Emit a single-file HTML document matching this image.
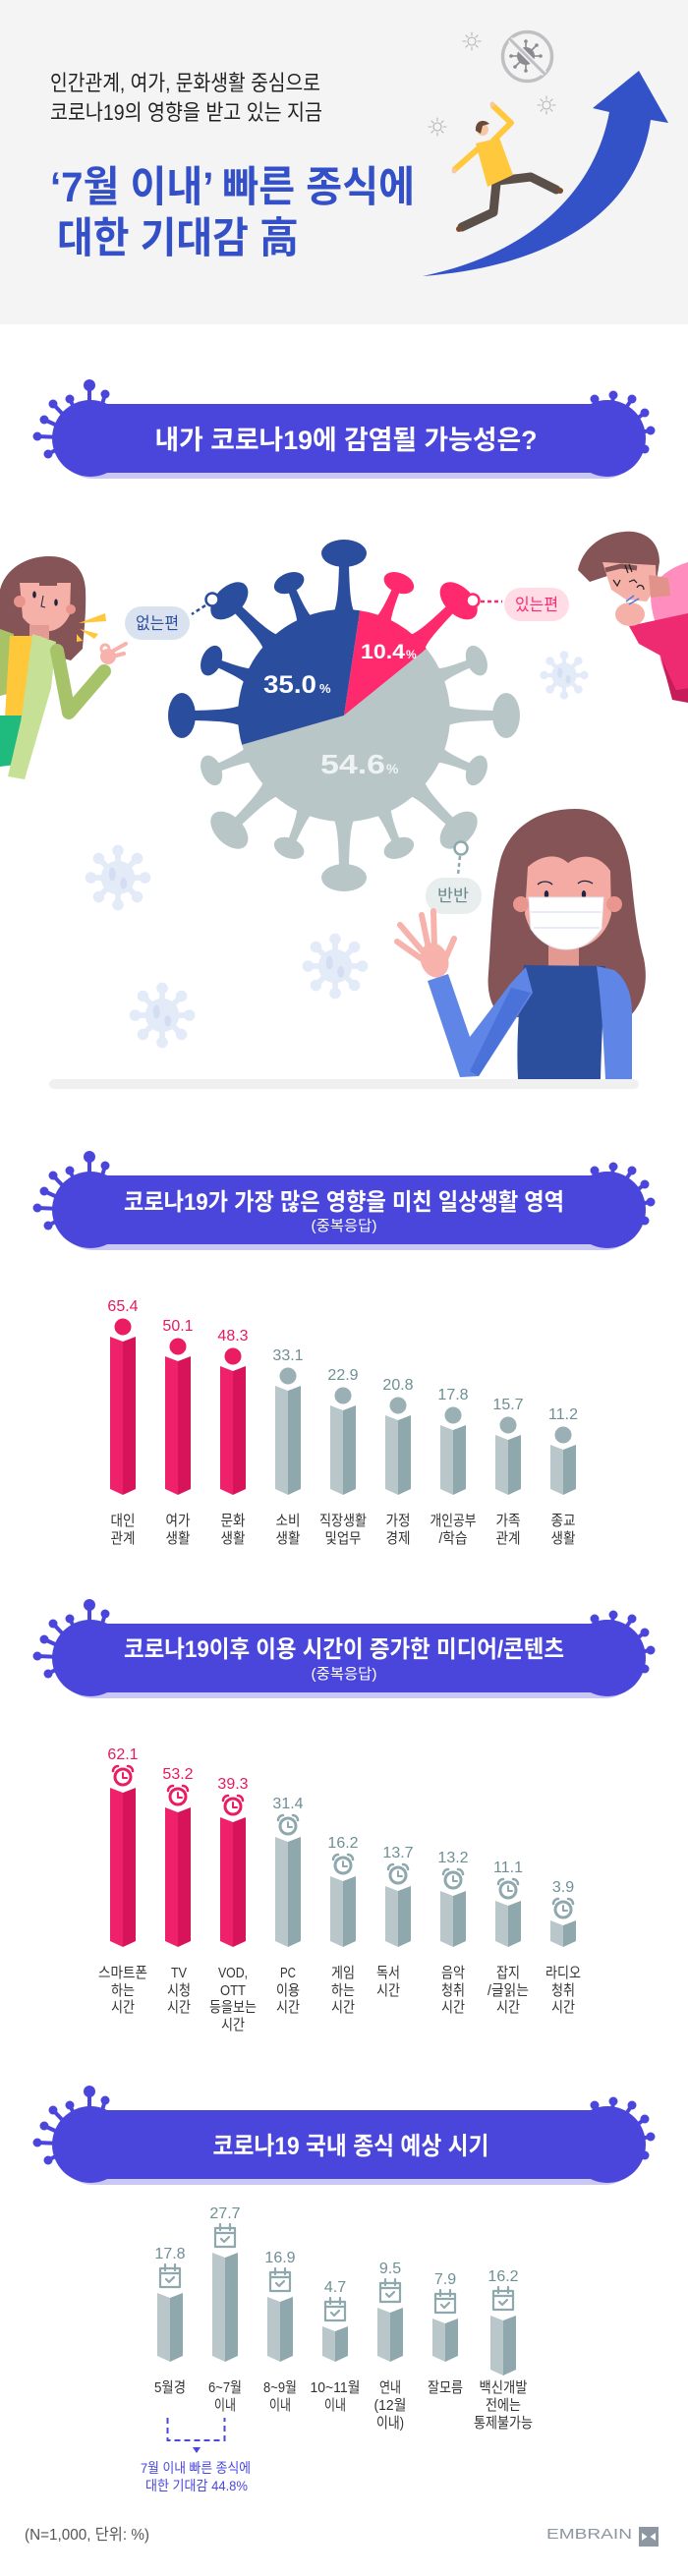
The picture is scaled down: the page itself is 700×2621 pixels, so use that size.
<!DOCTYPE html>
<html><head><meta charset="utf-8">
<style>
html,body{margin:0;padding:0;background:#fff;}
svg{display:block;}
text{font-family:"Liberation Sans","Noto Sans CJK KR",sans-serif;}
</style></head><body>
<svg width="700" height="2621" viewBox="0 0 700 2621" xmlns="http://www.w3.org/2000/svg">
<rect width="700" height="2621" fill="#fff"/>
<!-- ================= HEADER ================= -->
<rect width="700" height="330" fill="#f4f4f4"/>
<text x="51" y="92" font-size="22" fill="#222" textLength="275" lengthAdjust="spacingAndGlyphs">인간관계, 여가, 문화생활 중심으로</text>
<text x="51" y="122" font-size="22" fill="#222" textLength="277" lengthAdjust="spacingAndGlyphs">코로나19의 영향을 받고 있는 지금</text>
<text x="51" y="205" font-size="43" font-weight="bold" fill="#3450c8" textLength="371" lengthAdjust="spacingAndGlyphs">‘7월 이내’ 빠른 종식에</text>
<text x="58" y="257" font-size="43" font-weight="bold" fill="#3450c8" textLength="246" lengthAdjust="spacingAndGlyphs">대한 기대감 高</text>

<!-- arrow -->
<path d="M430,281 C540,258 605,195 620,114 L603,110 L650,72 L680,125 L662,122 C650,210 570,270 430,281 Z" fill="#3352c8"/>

<!-- crossed virus -->
<g stroke="#8b8b90" stroke-width="1.6" stroke-linecap="round">
<line x1="535" y1="43" x2="535" y2="71"/><line x1="521" y1="57" x2="549" y2="57"/>
<line x1="525" y1="47" x2="545" y2="67"/><line x1="545" y1="47" x2="525" y2="67"/>
</g>
<g fill="#8b8b90"><circle cx="535" cy="57" r="9"/><circle cx="535" cy="42" r="1.8"/><circle cx="535" cy="72" r="1.8"/><circle cx="520" cy="57" r="1.8"/><circle cx="550" cy="57" r="1.8"/><circle cx="524" cy="46" r="1.8"/><circle cx="546" cy="68" r="1.8"/><circle cx="546" cy="46" r="1.8"/><circle cx="524" cy="68" r="1.8"/></g>
<circle cx="536.5" cy="57.5" r="25" fill="none" stroke="#c0c0c3" stroke-width="3.5"/>
<line x1="519" y1="40" x2="554" y2="75" stroke="#f4f4f4" stroke-width="6"/>
<line x1="519" y1="40" x2="554" y2="75" stroke="#c0c0c3" stroke-width="3"/>
<!-- small virus outlines -->
<g fill="none" stroke="#b4b4b8" stroke-width="1.1" stroke-linecap="round">
<circle cx="480" cy="42" r="4"/><path d="M480,36v-3M480,48v3M474,42h-3M486,42h3M476,38l-2,-2M484,46l2,2M484,38l2,-2M476,46l-2,2"/>
<circle cx="556" cy="107" r="4"/><path d="M556,101v-3M556,113v3M550,107h-3M562,107h3M552,103l-2,-2M560,111l2,2M560,103l2,-2M552,111l-2,2"/>
<circle cx="445" cy="129" r="4"/><path d="M445,123v-3M445,135v3M439,129h-3M451,129h3M441,125l-2,-2M449,133l2,2M449,125l2,-2M441,133l-2,2"/>
</g>
<!-- person -->
<g stroke-linecap="round" stroke-linejoin="round" fill="none">
<line x1="488" y1="150" x2="463" y2="172" stroke="#ffc83d" stroke-width="6"/>
<polyline points="502,143 520,125 502,108" stroke="#ffc83d" stroke-width="6"/>
<polyline points="507,184 540,180 566,193" stroke="#5b4f49" stroke-width="9"/>
<polyline points="505,186 502,216 470,231" stroke="#5b4f49" stroke-width="9"/>
</g>
<polygon points="484,146 508,140 522,178 496,190" fill="#ffc83d"/>
<circle cx="491" cy="132" r="6" fill="#f6c8a8"/>
<path d="M484,133 C483,123 492,120 498,126 L491,128 L489,136 Z" fill="#6b4a3a"/>
<circle cx="462" cy="174" r="2.5" fill="#f6c8a8"/><circle cx="501" cy="106" r="2.5" fill="#f6c8a8"/>
<circle cx="570" cy="194" r="3" fill="#7a4a2a"/><circle cx="467" cy="233" r="3" fill="#7a4a2a"/>

<!-- ================= BANNER TEMPLATE (section 1) ================= -->
<g id="b1">
<g stroke="#4a46dc" stroke-width="4" stroke-linecap="round" fill="#4a46dc">
<line x1="91" y1="420" x2="91" y2="392"/><circle cx="91" cy="392" r="6" stroke="none"/>
<line x1="100" y1="425" x2="107" y2="401"/><circle cx="107" cy="401" r="4.5" stroke="none"/>
<line x1="80" y1="425" x2="71" y2="406"/><circle cx="71" cy="406" r="4.5" stroke="none"/>
<line x1="70" y1="428" x2="54" y2="411"/><circle cx="54" cy="411" r="4.5" stroke="none"/>
<line x1="65" y1="436" x2="45" y2="427"/><circle cx="45" cy="427" r="4.5" stroke="none"/>
<line x1="62" y1="445" x2="38" y2="444"/><circle cx="38" cy="444" r="4.5" stroke="none"/>
<line x1="62" y1="455" x2="49" y2="462"/><circle cx="49" cy="462" r="4.5" stroke="none"/>
<line x1="610" y1="420" x2="605" y2="406"/><circle cx="605" cy="406" r="4.5" stroke="none"/>
<line x1="622" y1="420" x2="624" y2="402"/><circle cx="624" cy="402" r="4.5" stroke="none"/>
<line x1="632" y1="422" x2="643" y2="406"/><circle cx="643" cy="406" r="4.5" stroke="none"/>
<line x1="640" y1="432" x2="656" y2="420"/><circle cx="656" cy="420" r="4.5" stroke="none"/>
<line x1="645" y1="441" x2="662" y2="438"/><circle cx="662" cy="438" r="4.5" stroke="none"/>
<line x1="642" y1="452" x2="656" y2="457"/><circle cx="656" cy="457" r="4.5" stroke="none"/>
</g>
<rect x="60" y="417" width="590" height="70" rx="35" fill="#c9c7f4"/>
<circle cx="92" cy="446" r="39" fill="#4a46dc"/>
<circle cx="618" cy="446" r="39" fill="#4a46dc"/>
<rect x="56" y="411" width="598" height="70" rx="35" fill="#4a46dc"/>
</g>
<text x="352" y="457" font-size="27" font-weight="bold" fill="#fff" text-anchor="middle" textLength="389" lengthAdjust="spacingAndGlyphs">내가 코로나19에 감염될 가능성은?</text>

<!-- ================= PIE SECTION ================= -->
<!-- faint viruses -->
<g fill="#e3eaf8">
<g transform="translate(574 687) scale(0.85)"><circle r="15"/><g stroke="#e3eaf8" stroke-width="5" stroke-linecap="round"><line x1="0" y1="0" x2="0" y2="-22"/><line x1="0" y1="0" x2="0" y2="22"/><line x1="0" y1="0" x2="-22" y2="0"/><line x1="0" y1="0" x2="22" y2="0"/><line x1="0" y1="0" x2="16" y2="16"/><line x1="0" y1="0" x2="-16" y2="-16"/><line x1="0" y1="0" x2="16" y2="-16"/><line x1="0" y1="0" x2="-16" y2="16"/></g><circle cx="0" cy="-24" r="5"/><circle cx="0" cy="24" r="5"/><circle cx="24" cy="0" r="5"/><circle cx="-24" cy="0" r="5"/><circle cx="17" cy="17" r="5"/><circle cx="-17" cy="-17" r="5"/><circle cx="17" cy="-17" r="5"/><circle cx="-17" cy="17" r="5"/><ellipse cx="-5" cy="-3" rx="3" ry="6" fill="#d3def3"/><ellipse cx="5" cy="5" rx="3" ry="5" fill="#d3def3"/></g>
<g transform="translate(120 893) scale(1.15)"><circle r="15"/><g stroke="#e3eaf8" stroke-width="5" stroke-linecap="round"><line x1="0" y1="0" x2="0" y2="-22"/><line x1="0" y1="0" x2="0" y2="22"/><line x1="0" y1="0" x2="-22" y2="0"/><line x1="0" y1="0" x2="22" y2="0"/><line x1="0" y1="0" x2="16" y2="16"/><line x1="0" y1="0" x2="-16" y2="-16"/><line x1="0" y1="0" x2="16" y2="-16"/><line x1="0" y1="0" x2="-16" y2="16"/></g><circle cx="0" cy="-24" r="5"/><circle cx="0" cy="24" r="5"/><circle cx="24" cy="0" r="5"/><circle cx="-24" cy="0" r="5"/><circle cx="17" cy="17" r="5"/><circle cx="-17" cy="-17" r="5"/><circle cx="17" cy="-17" r="5"/><circle cx="-17" cy="17" r="5"/><ellipse cx="-5" cy="-3" rx="3" ry="6" fill="#d3def3"/><ellipse cx="5" cy="5" rx="3" ry="5" fill="#d3def3"/></g>
<g transform="translate(341 983) scale(1.15)"><circle r="15"/><g stroke="#e3eaf8" stroke-width="5" stroke-linecap="round"><line x1="0" y1="0" x2="0" y2="-22"/><line x1="0" y1="0" x2="0" y2="22"/><line x1="0" y1="0" x2="-22" y2="0"/><line x1="0" y1="0" x2="22" y2="0"/><line x1="0" y1="0" x2="16" y2="16"/><line x1="0" y1="0" x2="-16" y2="-16"/><line x1="0" y1="0" x2="16" y2="-16"/><line x1="0" y1="0" x2="-16" y2="16"/></g><circle cx="0" cy="-24" r="5"/><circle cx="0" cy="24" r="5"/><circle cx="24" cy="0" r="5"/><circle cx="-24" cy="0" r="5"/><circle cx="17" cy="17" r="5"/><circle cx="-17" cy="-17" r="5"/><circle cx="17" cy="-17" r="5"/><circle cx="-17" cy="17" r="5"/><ellipse cx="-5" cy="-3" rx="3" ry="6" fill="#d3def3"/><ellipse cx="5" cy="5" rx="3" ry="5" fill="#d3def3"/></g>
<g transform="translate(165 1033) scale(1.15)"><circle r="15"/><g stroke="#e3eaf8" stroke-width="5" stroke-linecap="round"><line x1="0" y1="0" x2="0" y2="-22"/><line x1="0" y1="0" x2="0" y2="22"/><line x1="0" y1="0" x2="-22" y2="0"/><line x1="0" y1="0" x2="22" y2="0"/><line x1="0" y1="0" x2="16" y2="16"/><line x1="0" y1="0" x2="-16" y2="-16"/><line x1="0" y1="0" x2="16" y2="-16"/><line x1="0" y1="0" x2="-16" y2="16"/></g><circle cx="0" cy="-24" r="5"/><circle cx="0" cy="24" r="5"/><circle cx="24" cy="0" r="5"/><circle cx="-24" cy="0" r="5"/><circle cx="17" cy="17" r="5"/><circle cx="-17" cy="-17" r="5"/><circle cx="17" cy="-17" r="5"/><circle cx="-17" cy="17" r="5"/><ellipse cx="-5" cy="-3" rx="3" ry="6" fill="#d3def3"/><ellipse cx="5" cy="5" rx="3" ry="5" fill="#d3def3"/></g>
</g>

<!-- spikes -->
<g transform="translate(350 728) rotate(0)" fill="#2b4d9e"><path d="M-16,-96 C-7,-106 -6,-120 -5,-152 L5,-152 C6,-120 7,-106 16,-96 Z"/><ellipse cx="0" cy="-165" rx="23" ry="14"/></g>
<g transform="translate(350 728) rotate(22.5)" fill="#ff2a6d"><path d="M-13,-96 C-6,-104 -5,-116 -4,-140 L4,-140 C5,-116 6,-104 13,-96 Z"/><ellipse cx="0" cy="-146" rx="16" ry="10"/></g>
<g transform="translate(350 728) rotate(45)" fill="#ff2a6d"><path d="M-16,-96 C-7,-106 -6,-120 -5,-152 L5,-152 C6,-120 7,-106 16,-96 Z"/><ellipse cx="0" cy="-165" rx="23" ry="14"/></g>
<g transform="translate(350 728) rotate(67.5)" fill="#b8c6c8"><path d="M-13,-96 C-6,-104 -5,-116 -4,-140 L4,-140 C5,-116 6,-104 13,-96 Z"/><ellipse cx="0" cy="-146" rx="16" ry="10"/></g>
<g transform="translate(350 728) rotate(90)" fill="#b8c6c8"><path d="M-16,-96 C-7,-106 -6,-120 -5,-152 L5,-152 C6,-120 7,-106 16,-96 Z"/><ellipse cx="0" cy="-165" rx="23" ry="14"/></g>
<g transform="translate(350 728) rotate(112.5)" fill="#b8c6c8"><path d="M-13,-96 C-6,-104 -5,-116 -4,-140 L4,-140 C5,-116 6,-104 13,-96 Z"/><ellipse cx="0" cy="-146" rx="16" ry="10"/></g>
<g transform="translate(350 728) rotate(135)" fill="#b8c6c8"><path d="M-16,-96 C-7,-106 -6,-120 -5,-152 L5,-152 C6,-120 7,-106 16,-96 Z"/><ellipse cx="0" cy="-165" rx="23" ry="14"/></g>
<g transform="translate(350 728) rotate(157.5)" fill="#b8c6c8"><path d="M-13,-96 C-6,-104 -5,-116 -4,-140 L4,-140 C5,-116 6,-104 13,-96 Z"/><ellipse cx="0" cy="-146" rx="16" ry="10"/></g>
<g transform="translate(350 728) rotate(180)" fill="#b8c6c8"><path d="M-16,-96 C-7,-106 -6,-120 -5,-152 L5,-152 C6,-120 7,-106 16,-96 Z"/><ellipse cx="0" cy="-165" rx="23" ry="14"/></g>
<g transform="translate(350 728) rotate(202.5)" fill="#b8c6c8"><path d="M-13,-96 C-6,-104 -5,-116 -4,-140 L4,-140 C5,-116 6,-104 13,-96 Z"/><ellipse cx="0" cy="-146" rx="16" ry="10"/></g>
<g transform="translate(350 728) rotate(225)" fill="#b8c6c8"><path d="M-16,-96 C-7,-106 -6,-120 -5,-152 L5,-152 C6,-120 7,-106 16,-96 Z"/><ellipse cx="0" cy="-165" rx="23" ry="14"/></g>
<g transform="translate(350 728) rotate(247.5)" fill="#b8c6c8"><path d="M-13,-96 C-6,-104 -5,-116 -4,-140 L4,-140 C5,-116 6,-104 13,-96 Z"/><ellipse cx="0" cy="-146" rx="16" ry="10"/></g>
<g transform="translate(350 728) rotate(270)" fill="#2b4d9e"><path d="M-16,-96 C-7,-106 -6,-120 -5,-152 L5,-152 C6,-120 7,-106 16,-96 Z"/><ellipse cx="0" cy="-165" rx="23" ry="14"/></g>
<g transform="translate(350 728) rotate(292.5)" fill="#2b4d9e"><path d="M-13,-96 C-6,-104 -5,-116 -4,-140 L4,-140 C5,-116 6,-104 13,-96 Z"/><ellipse cx="0" cy="-146" rx="16" ry="10"/></g>
<g transform="translate(350 728) rotate(315)" fill="#2b4d9e"><path d="M-16,-96 C-7,-106 -6,-120 -5,-152 L5,-152 C6,-120 7,-106 16,-96 Z"/><ellipse cx="0" cy="-165" rx="23" ry="14"/></g>
<g transform="translate(350 728) rotate(337.5)" fill="#2b4d9e"><path d="M-13,-96 C-6,-104 -5,-116 -4,-140 L4,-140 C5,-116 6,-104 13,-96 Z"/><ellipse cx="0" cy="-146" rx="16" ry="10"/></g>

<!-- pie body -->
<path d="M350,728 L366.1,621.2 A108,108 0 0 1 433.9,660 Z" fill="#ff2a6d"/>
<path d="M350,728 L433.9,660 A108,108 0 1 1 246.2,757.8 Z" fill="#b8c6c8"/>
<path d="M350,728 L246.2,757.8 A108,108 0 0 1 366.1,621.2 Z" fill="#2b4d9e"/>

<text x="268" y="705" font-size="25" font-weight="bold" fill="#fff" textLength="54" lengthAdjust="spacingAndGlyphs">35.0</text>
<text x="325" y="705" font-size="13" font-weight="bold" fill="#fff">%</text>
<text x="367" y="670" font-size="21" font-weight="bold" fill="#fff" textLength="45" lengthAdjust="spacingAndGlyphs">10.4</text>
<text x="413" y="670" font-size="12" font-weight="bold" fill="#fff">%</text>
<text x="326" y="787" font-size="28" font-weight="bold" fill="#eef2f3" textLength="66" lengthAdjust="spacingAndGlyphs">54.6</text>
<text x="393" y="787" font-size="14" font-weight="bold" fill="#eef2f3">%</text>

<!-- connectors -->
<line x1="209" y1="616" x2="195" y2="625" stroke="#2b4d9e" stroke-width="2.5" stroke-dasharray="4 3"/>
<circle cx="216" cy="610" r="6.5" fill="#fff" stroke="#2b4d9e" stroke-width="2.5"/>
<rect x="127" y="617" width="66" height="34" rx="17" fill="#dbe2ef"/>
<text x="160" y="640" font-size="17" fill="#2b4d9e" text-anchor="middle" textLength="44" lengthAdjust="spacingAndGlyphs">없는편</text>

<line x1="489" y1="612" x2="511" y2="612" stroke="#ff2a6d" stroke-width="2.5" stroke-dasharray="4 3"/>
<circle cx="481" cy="611" r="6.5" fill="#fff" stroke="#ff2a6d" stroke-width="2.5"/>
<rect x="513" y="598" width="66" height="34" rx="17" fill="#ffdce6"/>
<text x="546" y="621" font-size="17" fill="#ff2a6d" text-anchor="middle" textLength="44" lengthAdjust="spacingAndGlyphs">있는편</text>

<line x1="468" y1="871" x2="466" y2="890" stroke="#8ea9ad" stroke-width="2.5" stroke-dasharray="4 3"/>
<circle cx="469" cy="863" r="6.5" fill="#fff" stroke="#8ea9ad" stroke-width="2.5"/>
<rect x="433" y="893" width="57" height="37" rx="18" fill="#e8eded"/>
<text x="461" y="917" font-size="17" fill="#6a878c" text-anchor="middle" textLength="32" lengthAdjust="spacingAndGlyphs">반반</text>

<!-- left woman -->
<path d="M0,640 L0,600 C5,580 25,566 50,566 C72,566 86,578 87,600 C88,625 85,645 84,660 L72,672 L30,660 L0,660 Z" fill="#845456"/>
<path d="M20,593 L72,593 L71,625 C66,637 56,643 47,642 C35,640 27,634 23,628 Z" fill="#f5b0a8"/>
<path d="M20,590 L40,590 L40,596 L58,596 L58,590 L72,590 L72,586 L20,586 Z" fill="#845456"/>
<circle cx="20" cy="612" r="6" fill="#e9958d"/><circle cx="72" cy="620" r="5" fill="#e9958d"/>
<ellipse cx="35" cy="605" rx="1.8" ry="3.5" fill="#1f2540"/><ellipse cx="57" cy="613" rx="1.8" ry="3.5" fill="#1f2540"/>
<path d="M44,606 L42,617 L46,618" fill="none" stroke="#1f2540" stroke-width="1"/>
<rect x="30" y="636" width="20" height="14" fill="#e59b95"/>
<polygon points="0,640 14,645 12,705 0,708" fill="#a8c266"/>
<polygon points="10,647 42,647 38,730 5,730" fill="#ffc83a"/>
<polygon points="0,728 22,728 16,778 0,780" fill="#1fba7e"/>
<polygon points="33,645 57,653 52,700 25,793 8,790 22,730" fill="#c6e095"/>
<polyline points="58,662 70,725 106,683" fill="none" stroke="#a7c36a" stroke-width="14" stroke-linecap="round" stroke-linejoin="round"/>
<circle cx="110" cy="668" r="8" fill="#f6b2ab"/>
<line x1="112" y1="664" x2="128" y2="655" stroke="#f6b2ab" stroke-width="4" stroke-linecap="round"/>
<line x1="114" y1="668" x2="126" y2="665" stroke="#f6b2ab" stroke-width="4" stroke-linecap="round"/>
<circle cx="107" cy="660" r="4" fill="none" stroke="#f6b2ab" stroke-width="3"/>
<polygon points="80,634 107,624 108,632" fill="#ffc83a"/>
<polygon points="81,640 100,645 96,650" fill="#ffc83a"/>
<polygon points="78,645 84,652 78,653" fill="#ffc83a"/>

<!-- right top woman -->
<path d="M700,572 C690,575 672,582 663,600 C660,615 666,630 670,645 C668,665 675,690 690,708 L700,712 Z" fill="#ff8dbd"/>
<path d="M588,580 C592,560 610,543 635,541 C656,539 671,551 671,572 L668,590 L645,584 L618,586 L600,592 Z" fill="#845456"/>
<path d="M613,572 L667,575 L668,596 L658,612 L637,610 L622,600 Z" fill="#f5b0a8"/>
<path d="M660,585 L680,588 L682,606 L662,608 Z" fill="#e0928b"/>
<path d="M616,580 L632,576 L648,578" fill="none" stroke="#845456" stroke-width="5"/>
<g fill="none" stroke="#222" stroke-width="1.2"><path d="M636,575 L639,583"/><path d="M640,574 L643,582"/><path d="M624,590 L628,596 L631,590"/><path d="M640,592 L645,590 L648,593"/><path d="M648,598 C650,594 655,595 655,600"/></g>
<path d="M640,637 L700,624 L700,700 L688,702 L672,667 L650,655 Z" fill="#ee2a70"/>
<path d="M672,667 L688,702 L700,700 L700,715 L684,712 Z" fill="#c81c5a"/>
<ellipse cx="641" cy="625" rx="15" ry="12" fill="#f5b0a8"/>
<line x1="637" y1="612" x2="645" y2="606" stroke="#4f7be0" stroke-width="1.5"/>
<line x1="640" y1="615" x2="650" y2="609" stroke="#4f7be0" stroke-width="1.5"/>

<!-- bottom right woman -->
<path d="M585,823 C545,823 515,845 508,880 C500,915 500,950 497,990 C495,1010 500,1025 510,1035 L640,1035 C655,1020 660,1000 655,975 C648,950 645,920 642,890 C638,850 620,823 585,823 Z" fill="#845456"/>
<path d="M537,882 C548,872 565,866 578,878 C594,866 612,872 621,886 L622,930 C616,955 596,966 578,966 C558,966 540,955 534,930 Z" fill="#f4aba3"/>
<circle cx="530" cy="920" r="8" fill="#e9968f"/><circle cx="625" cy="920" r="8" fill="#e9968f"/>
<ellipse cx="556" cy="910" rx="2.2" ry="4" fill="#1f2540"/><ellipse cx="594" cy="910" rx="2.2" ry="4" fill="#1f2540"/>
<path d="M547,900 C551,896 558,896 562,900" fill="none" stroke="#1f2540" stroke-width="1.3"/>
<path d="M588,899 C592,895 599,896 603,899" fill="none" stroke="#1f2540" stroke-width="1.3"/>
<rect x="558" y="962" width="31" height="22" fill="#e19990"/>
<path d="M538,913 L614,913 L612,945 C600,962 588,966 576,966 C564,966 550,960 540,945 Z" fill="#fff" stroke="#e5e8f5" stroke-width="1"/>
<path d="M540,928 L612,928 M543,944 L610,944" stroke="#e8ebf8" stroke-width="2"/>
<path d="M533,982 L616,983 C614,1020 612,1060 611,1098 L527,1098 C525,1060 528,1020 533,982 Z" fill="#2b4f9c"/>
<path d="M607,983 L625,987 C636,995 643,1010 643,1030 L643,1098 L616,1098 C614,1060 612,1020 607,983 Z" fill="#5f86e6"/>
<path d="M435,998 L456,991 L478,1055 L520,1000 L535,984 L542,1010 L487,1095 L468,1096 Z" fill="#5f86e6"/>
<path d="M520,1005 L540,1010 L487,1095 L478,1090 Z" fill="#4a72d8"/>
<ellipse cx="442" cy="977" rx="14" ry="18" transform="rotate(-20 442 977)" fill="#f6b2ab"/>
<g stroke="#f6b2ab" stroke-width="6" stroke-linecap="round"><line x1="436" y1="965" x2="429" y2="931"/><line x1="442" y1="964" x2="441" y2="927"/><line x1="430" y1="968" x2="407" y2="941"/><line x1="428" y1="975" x2="404" y2="958"/><line x1="452" y1="978" x2="462" y2="955"/></g>

<rect x="50" y="1098" width="600" height="10" rx="5" fill="#f0f0f0"/>

<!-- ================= SECTION 2 ================= -->
<g transform="translate(0 785)">
<g stroke="#4a46dc" stroke-width="4" stroke-linecap="round" fill="#4a46dc">
<line x1="91" y1="420" x2="91" y2="392"/><circle cx="91" cy="392" r="6" stroke="none"/>
<line x1="100" y1="425" x2="107" y2="401"/><circle cx="107" cy="401" r="4.5" stroke="none"/>
<line x1="80" y1="425" x2="71" y2="406"/><circle cx="71" cy="406" r="4.5" stroke="none"/>
<line x1="70" y1="428" x2="54" y2="411"/><circle cx="54" cy="411" r="4.5" stroke="none"/>
<line x1="65" y1="436" x2="45" y2="427"/><circle cx="45" cy="427" r="4.5" stroke="none"/>
<line x1="62" y1="445" x2="38" y2="444"/><circle cx="38" cy="444" r="4.5" stroke="none"/>
<line x1="62" y1="455" x2="49" y2="462"/><circle cx="49" cy="462" r="4.5" stroke="none"/>
<line x1="610" y1="420" x2="605" y2="406"/><circle cx="605" cy="406" r="4.5" stroke="none"/>
<line x1="622" y1="420" x2="624" y2="402"/><circle cx="624" cy="402" r="4.5" stroke="none"/>
<line x1="632" y1="422" x2="643" y2="406"/><circle cx="643" cy="406" r="4.5" stroke="none"/>
<line x1="640" y1="432" x2="656" y2="420"/><circle cx="656" cy="420" r="4.5" stroke="none"/>
<line x1="645" y1="441" x2="662" y2="438"/><circle cx="662" cy="438" r="4.5" stroke="none"/>
<line x1="642" y1="452" x2="656" y2="457"/><circle cx="656" cy="457" r="4.5" stroke="none"/>
</g>
<rect x="60" y="417" width="590" height="70" rx="35" fill="#c9c7f4"/>
<circle cx="92" cy="446" r="39" fill="#4a46dc"/>
<circle cx="618" cy="446" r="39" fill="#4a46dc"/>
<rect x="56" y="411" width="598" height="70" rx="35" fill="#4a46dc"/>
</g>
<text x="350" y="1231" font-size="24" font-weight="bold" fill="#fff" text-anchor="middle" textLength="448" lengthAdjust="spacingAndGlyphs">코로나19가 가장 많은 영향을 미친 일상생활 영역</text>
<text x="350" y="1252" font-size="15" fill="#fff" text-anchor="middle" textLength="67" lengthAdjust="spacingAndGlyphs">(중복응답)</text>

<!-- chart 1 bars -->
<g>
<polygon points="112,1360 125,1365 125,1521 112,1515" fill="#f0216b"/><polygon points="125,1365 138,1360 138,1515 125,1521" fill="#d7145a"/>
<polygon points="168,1380 181,1385 181,1521 168,1515" fill="#f0216b"/><polygon points="181,1385 194,1380 194,1515 181,1521" fill="#d7145a"/>
<polygon points="224,1390 237,1395 237,1521 224,1515" fill="#f0216b"/><polygon points="237,1395 250,1390 250,1515 237,1521" fill="#d7145a"/>
<polygon points="280,1410 293,1415 293,1521 280,1515" fill="#b9c7ca"/><polygon points="293,1415 306,1410 306,1515 293,1521" fill="#8fa8ad"/>
<polygon points="336,1430 349,1435 349,1521 336,1515" fill="#b9c7ca"/><polygon points="349,1435 362,1430 362,1515 349,1521" fill="#8fa8ad"/>
<polygon points="392,1440 405,1445 405,1521 392,1515" fill="#b9c7ca"/><polygon points="405,1445 418,1440 418,1515 405,1521" fill="#8fa8ad"/>
<polygon points="448,1450 461,1455 461,1521 448,1515" fill="#b9c7ca"/><polygon points="461,1455 474,1450 474,1515 461,1521" fill="#8fa8ad"/>
<polygon points="504,1460 517,1465 517,1521 504,1515" fill="#b9c7ca"/><polygon points="517,1465 530,1460 530,1515 517,1521" fill="#8fa8ad"/>
<polygon points="560,1470 573,1475 573,1521 560,1515" fill="#b9c7ca"/><polygon points="573,1475 586,1470 586,1515 573,1521" fill="#8fa8ad"/>
</g>
<g stroke="#fff" stroke-width="2">
<circle cx="125" cy="1350" r="9.5" fill="#ea1d63"/><circle cx="181" cy="1370" r="9.5" fill="#ea1d63"/><circle cx="237" cy="1380" r="9.5" fill="#ea1d63"/>
<circle cx="293" cy="1400" r="9.5" fill="#9ab0b4"/><circle cx="349" cy="1420" r="9.5" fill="#9ab0b4"/><circle cx="405" cy="1430" r="9.5" fill="#9ab0b4"/>
<circle cx="461" cy="1440" r="9.5" fill="#9ab0b4"/><circle cx="517" cy="1450" r="9.5" fill="#9ab0b4"/><circle cx="573" cy="1460" r="9.5" fill="#9ab0b4"/>
</g>
<g font-size="16" text-anchor="middle">
<text x="125" y="1334" fill="#e8185f">65.4</text>
<text x="181" y="1354" fill="#e8185f">50.1</text>
<text x="237" y="1364" fill="#e8185f">48.3</text>
<text x="293" y="1384" fill="#6e8f95">33.1</text>
<text x="349" y="1404" fill="#6e8f95">22.9</text>
<text x="405" y="1414" fill="#6e8f95">20.8</text>
<text x="461" y="1424" fill="#6e8f95">17.8</text>
<text x="517" y="1434" fill="#6e8f95">15.7</text>
<text x="573" y="1444" fill="#6e8f95">11.2</text>
</g>
<g font-size="15" fill="#333" text-anchor="middle" lengthAdjust="spacingAndGlyphs">
<text x="125" y="1552" textLength="25" lengthAdjust="spacingAndGlyphs">대인</text><text x="125" y="1570" textLength="25" lengthAdjust="spacingAndGlyphs">관계</text>
<text x="181" y="1552" textLength="25" lengthAdjust="spacingAndGlyphs">여가</text><text x="181" y="1570" textLength="25" lengthAdjust="spacingAndGlyphs">생활</text>
<text x="237" y="1552" textLength="25" lengthAdjust="spacingAndGlyphs">문화</text><text x="237" y="1570" textLength="25" lengthAdjust="spacingAndGlyphs">생활</text>
<text x="293" y="1552" textLength="25" lengthAdjust="spacingAndGlyphs">소비</text><text x="293" y="1570" textLength="25" lengthAdjust="spacingAndGlyphs">생활</text>
<text x="349" y="1552" textLength="48" lengthAdjust="spacingAndGlyphs">직장생활</text><text x="349" y="1570" textLength="37" lengthAdjust="spacingAndGlyphs">및업무</text>
<text x="405" y="1552" textLength="25" lengthAdjust="spacingAndGlyphs">가정</text><text x="405" y="1570" textLength="25" lengthAdjust="spacingAndGlyphs">경제</text>
<text x="461" y="1552" textLength="47" lengthAdjust="spacingAndGlyphs">개인공부</text><text x="461" y="1570" textLength="29" lengthAdjust="spacingAndGlyphs">/학습</text>
<text x="517" y="1552" textLength="25" lengthAdjust="spacingAndGlyphs">가족</text><text x="517" y="1570" textLength="25" lengthAdjust="spacingAndGlyphs">관계</text>
<text x="573" y="1552" textLength="25" lengthAdjust="spacingAndGlyphs">종교</text><text x="573" y="1570" textLength="25" lengthAdjust="spacingAndGlyphs">생활</text>
</g>

<!-- ================= SECTION 3 ================= -->
<g transform="translate(0 1241)">
<g stroke="#4a46dc" stroke-width="4" stroke-linecap="round" fill="#4a46dc">
<line x1="91" y1="420" x2="91" y2="392"/><circle cx="91" cy="392" r="6" stroke="none"/>
<line x1="100" y1="425" x2="107" y2="401"/><circle cx="107" cy="401" r="4.5" stroke="none"/>
<line x1="80" y1="425" x2="71" y2="406"/><circle cx="71" cy="406" r="4.5" stroke="none"/>
<line x1="70" y1="428" x2="54" y2="411"/><circle cx="54" cy="411" r="4.5" stroke="none"/>
<line x1="65" y1="436" x2="45" y2="427"/><circle cx="45" cy="427" r="4.5" stroke="none"/>
<line x1="62" y1="445" x2="38" y2="444"/><circle cx="38" cy="444" r="4.5" stroke="none"/>
<line x1="62" y1="455" x2="49" y2="462"/><circle cx="49" cy="462" r="4.5" stroke="none"/>
<line x1="610" y1="420" x2="605" y2="406"/><circle cx="605" cy="406" r="4.5" stroke="none"/>
<line x1="622" y1="420" x2="624" y2="402"/><circle cx="624" cy="402" r="4.5" stroke="none"/>
<line x1="632" y1="422" x2="643" y2="406"/><circle cx="643" cy="406" r="4.5" stroke="none"/>
<line x1="640" y1="432" x2="656" y2="420"/><circle cx="656" cy="420" r="4.5" stroke="none"/>
<line x1="645" y1="441" x2="662" y2="438"/><circle cx="662" cy="438" r="4.5" stroke="none"/>
<line x1="642" y1="452" x2="656" y2="457"/><circle cx="656" cy="457" r="4.5" stroke="none"/>
</g>
<rect x="60" y="417" width="590" height="70" rx="35" fill="#c9c7f4"/>
<circle cx="92" cy="446" r="39" fill="#4a46dc"/>
<circle cx="618" cy="446" r="39" fill="#4a46dc"/>
<rect x="56" y="411" width="598" height="70" rx="35" fill="#4a46dc"/>
</g>
<text x="350" y="1686" font-size="24" font-weight="bold" fill="#fff" text-anchor="middle" textLength="448" lengthAdjust="spacingAndGlyphs">코로나19이후 이용 시간이 증가한 미디어/콘텐츠</text>
<text x="350" y="1708" font-size="15" fill="#fff" text-anchor="middle" textLength="67" lengthAdjust="spacingAndGlyphs">(중복응답)</text>

<!-- chart 2 bars -->
<g>
<polygon points="112,1819 125,1824 125,1981 112,1975" fill="#f0216b"/><polygon points="125,1824 138,1819 138,1975 125,1981" fill="#d7145a"/>
<polygon points="168,1839 181,1844 181,1981 168,1975" fill="#f0216b"/><polygon points="181,1844 194,1839 194,1975 181,1981" fill="#d7145a"/>
<polygon points="224,1849 237,1854 237,1981 224,1975" fill="#f0216b"/><polygon points="237,1854 250,1849 250,1975 237,1981" fill="#d7145a"/>
<polygon points="280,1869 293,1874 293,1981 280,1975" fill="#b9c7ca"/><polygon points="293,1874 306,1869 306,1975 293,1981" fill="#8fa8ad"/>
<polygon points="336,1909 349,1914 349,1981 336,1975" fill="#b9c7ca"/><polygon points="349,1914 362,1909 362,1975 349,1981" fill="#8fa8ad"/>
<polygon points="392,1919 405,1924 405,1981 392,1975" fill="#b9c7ca"/><polygon points="405,1924 418,1919 418,1975 405,1981" fill="#8fa8ad"/>
<polygon points="448,1924 461,1929 461,1981 448,1975" fill="#b9c7ca"/><polygon points="461,1929 474,1924 474,1975 461,1981" fill="#8fa8ad"/>
<polygon points="504,1934 517,1939 517,1981 504,1975" fill="#b9c7ca"/><polygon points="517,1939 530,1934 530,1975 517,1981" fill="#8fa8ad"/>
<polygon points="560,1954 573,1959 573,1981 560,1975" fill="#b9c7ca"/><polygon points="573,1959 586,1954 586,1975 573,1981" fill="#8fa8ad"/>
</g>
<!-- clocks -->
<g fill="#fff" stroke-width="3" stroke-linecap="round" stroke-linejoin="round">
<g stroke="#ea1d63"><circle cx="125" cy="1808" r="8"/><path d="M115,1802 a5,5 0 0 1 5,-5 M135,1802 a5,5 0 0 0 -5,-5" fill="none" stroke-width="2.5"/><polyline points="125,1804 125,1809 129,1809" fill="none" stroke-width="2"/></g>
<g stroke="#ea1d63"><circle cx="181" cy="1828" r="8"/><path d="M171,1822 a5,5 0 0 1 5,-5 M191,1822 a5,5 0 0 0 -5,-5" fill="none" stroke-width="2.5"/><polyline points="181,1824 181,1829 185,1829" fill="none" stroke-width="2"/></g>
<g stroke="#ea1d63"><circle cx="237" cy="1838" r="8"/><path d="M227,1832 a5,5 0 0 1 5,-5 M247,1832 a5,5 0 0 0 -5,-5" fill="none" stroke-width="2.5"/><polyline points="237,1834 237,1839 241,1839" fill="none" stroke-width="2"/></g>
<g stroke="#8fa8ad"><circle cx="293" cy="1858" r="8"/><path d="M283,1852 a5,5 0 0 1 5,-5 M303,1852 a5,5 0 0 0 -5,-5" fill="none" stroke-width="2.5"/><polyline points="293,1854 293,1859 297,1859" fill="none" stroke-width="2"/></g>
<g stroke="#8fa8ad"><circle cx="349" cy="1898" r="8"/><path d="M339,1892 a5,5 0 0 1 5,-5 M359,1892 a5,5 0 0 0 -5,-5" fill="none" stroke-width="2.5"/><polyline points="349,1894 349,1899 353,1899" fill="none" stroke-width="2"/></g>
<g stroke="#8fa8ad"><circle cx="405" cy="1908" r="8"/><path d="M395,1902 a5,5 0 0 1 5,-5 M415,1902 a5,5 0 0 0 -5,-5" fill="none" stroke-width="2.5"/><polyline points="405,1904 405,1909 409,1909" fill="none" stroke-width="2"/></g>
<g stroke="#8fa8ad"><circle cx="461" cy="1913" r="8"/><path d="M451,1907 a5,5 0 0 1 5,-5 M471,1907 a5,5 0 0 0 -5,-5" fill="none" stroke-width="2.5"/><polyline points="461,1909 461,1914 465,1914" fill="none" stroke-width="2"/></g>
<g stroke="#8fa8ad"><circle cx="517" cy="1923" r="8"/><path d="M507,1917 a5,5 0 0 1 5,-5 M527,1917 a5,5 0 0 0 -5,-5" fill="none" stroke-width="2.5"/><polyline points="517,1919 517,1924 521,1924" fill="none" stroke-width="2"/></g>
<g stroke="#8fa8ad"><circle cx="573" cy="1943" r="8"/><path d="M563,1937 a5,5 0 0 1 5,-5 M583,1937 a5,5 0 0 0 -5,-5" fill="none" stroke-width="2.5"/><polyline points="573,1939 573,1944 577,1944" fill="none" stroke-width="2"/></g>
</g>
<g font-size="16" text-anchor="middle">
<text x="125" y="1790" fill="#e8185f">62.1</text>
<text x="181" y="1810" fill="#e8185f">53.2</text>
<text x="237" y="1820" fill="#e8185f">39.3</text>
<text x="293" y="1840" fill="#6e8f95">31.4</text>
<text x="349" y="1880" fill="#6e8f95">16.2</text>
<text x="405" y="1890" fill="#6e8f95">13.7</text>
<text x="461" y="1895" fill="#6e8f95">13.2</text>
<text x="517" y="1905" fill="#6e8f95">11.1</text>
<text x="573" y="1925" fill="#6e8f95">3.9</text>
</g>
<g font-size="15" fill="#333" text-anchor="middle">
<text x="125" y="2012" textLength="50" lengthAdjust="spacingAndGlyphs">스마트폰</text><text x="125" y="2030" textLength="24" lengthAdjust="spacingAndGlyphs">하는</text><text x="125" y="2047" textLength="24" lengthAdjust="spacingAndGlyphs">시간</text>
<text x="182" y="2012" textLength="16" lengthAdjust="spacingAndGlyphs">TV</text><text x="182" y="2030" textLength="24" lengthAdjust="spacingAndGlyphs">시청</text><text x="182" y="2047" textLength="24" lengthAdjust="spacingAndGlyphs">시간</text>
<text x="237" y="2012" textLength="30" lengthAdjust="spacingAndGlyphs">VOD,</text><text x="237" y="2030" textLength="26" lengthAdjust="spacingAndGlyphs">OTT</text><text x="237" y="2047" textLength="48" lengthAdjust="spacingAndGlyphs">등을보는</text><text x="237" y="2065" textLength="24" lengthAdjust="spacingAndGlyphs">시간</text>
<text x="293" y="2012" textLength="16" lengthAdjust="spacingAndGlyphs">PC</text><text x="293" y="2030" textLength="24" lengthAdjust="spacingAndGlyphs">이용</text><text x="293" y="2047" textLength="24" lengthAdjust="spacingAndGlyphs">시간</text>
<text x="349" y="2012" textLength="24" lengthAdjust="spacingAndGlyphs">게임</text><text x="349" y="2030" textLength="24" lengthAdjust="spacingAndGlyphs">하는</text><text x="349" y="2047" textLength="24" lengthAdjust="spacingAndGlyphs">시간</text>
<text x="395" y="2012" textLength="24" lengthAdjust="spacingAndGlyphs">독서</text><text x="395" y="2030" textLength="24" lengthAdjust="spacingAndGlyphs">시간</text>
<text x="461" y="2012" textLength="24" lengthAdjust="spacingAndGlyphs">음악</text><text x="461" y="2030" textLength="24" lengthAdjust="spacingAndGlyphs">청취</text><text x="461" y="2047" textLength="24" lengthAdjust="spacingAndGlyphs">시간</text>
<text x="517" y="2012" textLength="24" lengthAdjust="spacingAndGlyphs">잡지</text><text x="517" y="2030" textLength="42" lengthAdjust="spacingAndGlyphs">/글읽는</text><text x="517" y="2047" textLength="24" lengthAdjust="spacingAndGlyphs">시간</text>
<text x="573" y="2012" textLength="36" lengthAdjust="spacingAndGlyphs">라디오</text><text x="573" y="2030" textLength="24" lengthAdjust="spacingAndGlyphs">청취</text><text x="573" y="2047" textLength="24" lengthAdjust="spacingAndGlyphs">시간</text>
</g>

<!-- ================= SECTION 4 ================= -->
<g transform="translate(0 1736)">
<g stroke="#4a46dc" stroke-width="4" stroke-linecap="round" fill="#4a46dc">
<line x1="91" y1="420" x2="91" y2="392"/><circle cx="91" cy="392" r="6" stroke="none"/>
<line x1="100" y1="425" x2="107" y2="401"/><circle cx="107" cy="401" r="4.5" stroke="none"/>
<line x1="80" y1="425" x2="71" y2="406"/><circle cx="71" cy="406" r="4.5" stroke="none"/>
<line x1="70" y1="428" x2="54" y2="411"/><circle cx="54" cy="411" r="4.5" stroke="none"/>
<line x1="65" y1="436" x2="45" y2="427"/><circle cx="45" cy="427" r="4.5" stroke="none"/>
<line x1="62" y1="445" x2="38" y2="444"/><circle cx="38" cy="444" r="4.5" stroke="none"/>
<line x1="62" y1="455" x2="49" y2="462"/><circle cx="49" cy="462" r="4.5" stroke="none"/>
<line x1="610" y1="420" x2="605" y2="406"/><circle cx="605" cy="406" r="4.5" stroke="none"/>
<line x1="622" y1="420" x2="624" y2="402"/><circle cx="624" cy="402" r="4.5" stroke="none"/>
<line x1="632" y1="422" x2="643" y2="406"/><circle cx="643" cy="406" r="4.5" stroke="none"/>
<line x1="640" y1="432" x2="656" y2="420"/><circle cx="656" cy="420" r="4.5" stroke="none"/>
<line x1="645" y1="441" x2="662" y2="438"/><circle cx="662" cy="438" r="4.5" stroke="none"/>
<line x1="642" y1="452" x2="656" y2="457"/><circle cx="656" cy="457" r="4.5" stroke="none"/>
</g>
<rect x="60" y="417" width="590" height="70" rx="35" fill="#c9c7f4"/>
<circle cx="92" cy="446" r="39" fill="#4a46dc"/>
<circle cx="618" cy="446" r="39" fill="#4a46dc"/>
<rect x="56" y="411" width="598" height="70" rx="35" fill="#4a46dc"/>
</g>
<text x="357" y="2192" font-size="25" font-weight="bold" fill="#fff" text-anchor="middle" textLength="281" lengthAdjust="spacingAndGlyphs">코로나19 국내 종식 예상 시기</text>

<!-- chart 3 bars -->
<g>
<polygon points="160,2333 173,2338 173,2403 160,2397" fill="#b9c7ca"/><polygon points="173,2338 186,2333 186,2397 173,2403" fill="#8fa8ad"/>
<polygon points="216,2292 229,2297 229,2403 216,2397" fill="#b9c7ca"/><polygon points="229,2297 242,2292 242,2397 229,2403" fill="#8fa8ad"/>
<polygon points="272,2337 285,2342 285,2403 272,2397" fill="#b9c7ca"/><polygon points="285,2342 298,2337 298,2397 285,2403" fill="#8fa8ad"/>
<polygon points="328,2367 341,2372 341,2403 328,2397" fill="#b9c7ca"/><polygon points="341,2372 354,2367 354,2397 341,2403" fill="#8fa8ad"/>
<polygon points="384,2348 397,2353 397,2403 384,2397" fill="#b9c7ca"/><polygon points="397,2353 410,2348 410,2397 397,2403" fill="#8fa8ad"/>
<polygon points="440,2359 453,2364 453,2403 440,2397" fill="#b9c7ca"/><polygon points="453,2364 466,2359 466,2397 453,2403" fill="#8fa8ad"/>
<polygon points="499,2356 512,2361 512,2417 499,2411" fill="#b9c7ca"/><polygon points="512,2361 525,2356 525,2411 512,2417" fill="#8fa8ad"/>
</g>
<!-- calendars -->
<g fill="#fff" stroke="#8fa8ad" stroke-width="2.2" stroke-linecap="round" stroke-linejoin="round">
<g><rect x="163" y="2308" width="20" height="19"/><line x1="163" y1="2313" x2="183" y2="2313"/><line x1="168" y1="2304" x2="168" y2="2310"/><line x1="178" y1="2304" x2="178" y2="2310"/><polyline points="169,2319 172,2322 177,2317" fill="none"/></g>
<g><rect x="219" y="2267" width="20" height="19"/><line x1="219" y1="2272" x2="239" y2="2272"/><line x1="224" y1="2263" x2="224" y2="2269"/><line x1="234" y1="2263" x2="234" y2="2269"/><polyline points="225,2278 228,2281 233,2276" fill="none"/></g>
<g><rect x="275" y="2312" width="20" height="19"/><line x1="275" y1="2317" x2="295" y2="2317"/><line x1="280" y1="2308" x2="280" y2="2314"/><line x1="290" y1="2308" x2="290" y2="2314"/><polyline points="281,2323 284,2326 289,2321" fill="none"/></g>
<g><rect x="331" y="2342" width="20" height="19"/><line x1="331" y1="2347" x2="351" y2="2347"/><line x1="336" y1="2338" x2="336" y2="2344"/><line x1="346" y1="2338" x2="346" y2="2344"/><polyline points="337,2353 340,2356 345,2351" fill="none"/></g>
<g><rect x="387" y="2323" width="20" height="19"/><line x1="387" y1="2328" x2="407" y2="2328"/><line x1="392" y1="2319" x2="392" y2="2325"/><line x1="402" y1="2319" x2="402" y2="2325"/><polyline points="393,2334 396,2337 401,2332" fill="none"/></g>
<g><rect x="443" y="2334" width="20" height="19"/><line x1="443" y1="2339" x2="463" y2="2339"/><line x1="448" y1="2330" x2="448" y2="2336"/><line x1="458" y1="2330" x2="458" y2="2336"/><polyline points="449,2345 452,2348 457,2343" fill="none"/></g>
<g><rect x="502" y="2331" width="20" height="19"/><line x1="502" y1="2336" x2="522" y2="2336"/><line x1="507" y1="2327" x2="507" y2="2333"/><line x1="517" y1="2327" x2="517" y2="2333"/><polyline points="508,2342 511,2345 516,2340" fill="none"/></g>
</g>
<g font-size="16" text-anchor="middle" fill="#6e8f95">
<text x="173" y="2298">17.8</text>
<text x="229" y="2257">27.7</text>
<text x="285" y="2302">16.9</text>
<text x="341" y="2332">4.7</text>
<text x="397" y="2313">9.5</text>
<text x="453" y="2324">7.9</text>
<text x="512" y="2321">16.2</text>
</g>
<g font-size="15" fill="#333" text-anchor="middle">
<text x="173" y="2434" textLength="32" lengthAdjust="spacingAndGlyphs">5월경</text>
<text x="229" y="2434" textLength="34" lengthAdjust="spacingAndGlyphs">6~7월</text><text x="229" y="2452" textLength="22" lengthAdjust="spacingAndGlyphs">이내</text>
<text x="285" y="2434" textLength="34" lengthAdjust="spacingAndGlyphs">8~9월</text><text x="285" y="2452" textLength="22" lengthAdjust="spacingAndGlyphs">이내</text>
<text x="341" y="2434" textLength="51" lengthAdjust="spacingAndGlyphs">10~11월</text><text x="341" y="2452" textLength="22" lengthAdjust="spacingAndGlyphs">이내</text>
<text x="397" y="2434" textLength="22" lengthAdjust="spacingAndGlyphs">연내</text><text x="397" y="2452" textLength="33" lengthAdjust="spacingAndGlyphs">(12월</text><text x="397" y="2470" textLength="28" lengthAdjust="spacingAndGlyphs">이내)</text>
<text x="453" y="2434" textLength="36" lengthAdjust="spacingAndGlyphs">잘모름</text>
<text x="512" y="2434" textLength="49" lengthAdjust="spacingAndGlyphs">백신개발</text><text x="512" y="2452" textLength="36" lengthAdjust="spacingAndGlyphs">전에는</text><text x="512" y="2470" textLength="60" lengthAdjust="spacingAndGlyphs">통제불가능</text>
</g>

<!-- bracket -->
<path d="M170.5,2460 V2483 H228.5 V2460" fill="none" stroke="#4a47dc" stroke-width="2" stroke-dasharray="6 4"/>
<polygon points="196,2490 204,2490 200,2496" fill="#4a47dc"/>
<text x="199" y="2516" font-size="14" fill="#4a47dc" text-anchor="middle" textLength="112" lengthAdjust="spacingAndGlyphs">7월 이내 빠른 종식에</text>
<text x="200" y="2534" font-size="14" fill="#4a47dc" text-anchor="middle" textLength="104" lengthAdjust="spacingAndGlyphs">대한 기대감 44.8%</text>

<!-- footer -->
<text x="25" y="2584" font-size="16" fill="#555" textLength="127" lengthAdjust="spacingAndGlyphs">(N=1,000, 단위: %)</text>
<text x="556" y="2583" font-size="15" fill="#8d97a2" textLength="87" lengthAdjust="spacingAndGlyphs">EMBRAIN</text>
<g fill="#8d97a2">
<path d="M650,2571 h20 v4 l-10,7 l-10,-7 z"/>
<path d="M650,2591 h20 v-4 l-10,-7 l-10,7 z"/>
<rect x="650" y="2571" width="3" height="20"/><rect x="667" y="2571" width="3" height="20"/>
</g>
</svg>
</body></html>
